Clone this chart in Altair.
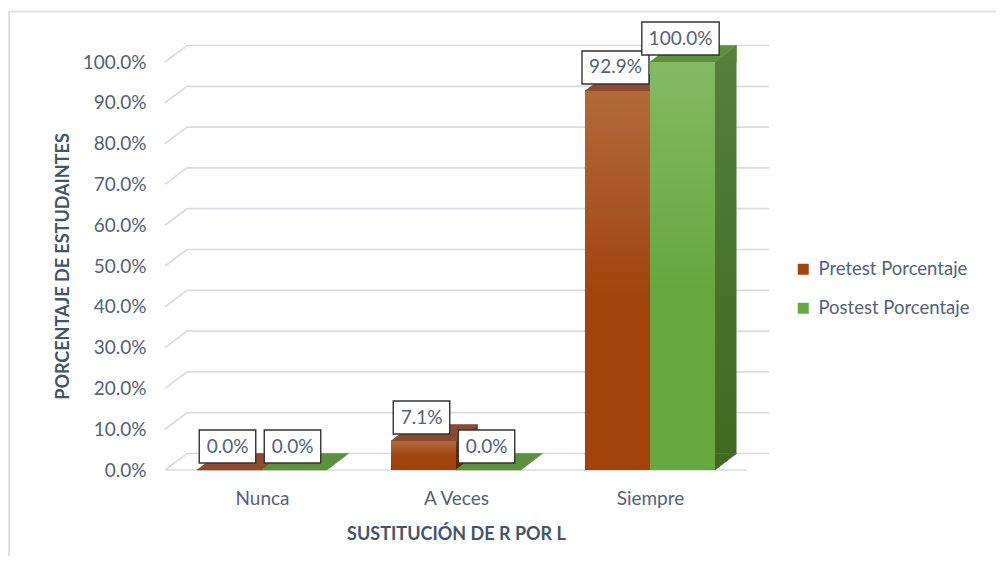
import altair as alt
import pandas as pd

# ---------------- data ----------------
categories = ["Nunca", "A Veces", "Siempre"]
series = ["Pretest Porcentaje", "Postest Porcentaje"]
pretest = [0.0, 0.071, 0.929]
postest = [0.0, 0.0, 1.0]
y_ticks = [0.0, 0.1, 0.2, 0.3, 0.4, 0.5, 0.6, 0.7, 0.8, 0.9, 1.0]
x_title = "SUSTITUCIÓN DE R POR L"
y_title = "PORCENTAJE DE ESTUDAINTES"

# ---------------- style / geometry ----------------
FONT = "Lato"
TXT = "#566175"
TITLE = "#44546A"
GRID = "#D9DCE1"
W, H = 582, 408                 # plot area (front face region)
PXX = W / len(categories)       # px per category unit
BAR_PX = 65.0                   # bar width, px
DX_PX, DY_PX = 21.5, 16.5       # 3-D depth offsets, px
BAR_W = BAR_PX / PXX
DX = DX_PX / PXX
DY = DY_PX / H
GX = 22 / PXX
LFS = 19                        # label font size

front_col = {"Pretest Porcentaje": "#A0440C", "Postest Porcentaje": "#66A83E"}
top_col = {"Pretest Porcentaje": "#8C4A32", "Postest Porcentaje": "#5E9040"}
side_grad = {
    "Pretest Porcentaje": ("#7A3A1E", "#5E2A08"),
    "Postest Porcentaje": ("#557F3B", "#3E6A22"),
}

# symbol paths (size=4 -> path units are pixels)
TOP_PATH = (f"M0,0L{BAR_PX},0L{BAR_PX + DX_PX},{-DY_PX}"
            f"L{DX_PX},{-DY_PX}Z")
LOW_TRI = f"M0,0L{DX_PX},{-DY_PX}L0,{-DY_PX}Z"
UP_TRI = f"M0,0L{DX_PX},{-DY_PX}L{DX_PX},0Z"


def text_w(s, fs=18):
    w = 0.0
    for ch in s:
        if ch.isdigit():
            w += 0.58
        elif ch == ".":
            w += 0.26
        elif ch == "%":
            w += 0.83
        else:
            w += 0.6
    return w * fs


vals = {series[0]: pretest, series[1]: postest}
bars, boxes = [], []
for i, cat in enumerate(categories):
    for s, ser in enumerate(series):
        v = vals[ser][i]
        xl = i + 0.5 - BAR_W + s * BAR_W
        xr = xl + BAR_W
        xc = (xl + xr) / 2
        bars.append(dict(series=ser, category=cat, value=v, zero=0.0,
                         xl=xl, xr=xr, xc=xc, xr2=xr + DX, sy=DY,
                         topc=top_col[ser], c1=side_grad[ser][0], c2=side_grad[ser][1]))
        lab = f"{v * 100:.1f}%"
        hw = (text_w(lab) + 16) / 2 / PXX
        boxes.append(dict(value=v, xc=xc, bx1=xc - hw, bx2=xc + hw))

bars = pd.DataFrame(bars)
boxes = pd.DataFrame(boxes)
sides = bars[bars["value"] > DY]

grid = []
for t in y_ticks:
    grid.append(dict(t=t, pt=0, gx=0.0, gy=t))
    grid.append(dict(t=t, pt=1, gx=GX, gy=t + DY))
    grid.append(dict(t=t, pt=2, gx=len(categories) + GX, gy=t + DY))
grid = pd.DataFrame(grid)
floor = pd.DataFrame([dict(fx=0.0, fx2=float(len(categories)), fy=0.0)])

xs = alt.Scale(domain=[0, len(categories)], nice=False, zero=False)
ys = alt.Scale(domain=[0, 1], nice=False, zero=False)

label_arr = "[" + ",".join(f"'{c}'" for c in categories) + "]"

x_axis = alt.Axis(
    values=[i + 0.5 for i in range(len(categories))],
    labelExpr=f"{label_arr}[floor(datum.value)]",
    domain=False, ticks=False, grid=False,
    labelFont=FONT, labelFontSize=LFS, labelColor=TXT, labelPadding=19,
    labelOverlap=False, labelFlush=False,
    title=x_title, titleFont=FONT, titleFontSize=18, titleFontWeight="bold",
    titleColor=TITLE, titleY=69, titleBaseline="alphabetic",
)
y_axis = alt.Axis(
    values=y_ticks, format=".1%",
    domain=False, ticks=False, grid=False,
    labelFont=FONT, labelFontSize=LFS, labelColor=TXT, labelPadding=19,
    title=y_title, titleFont=FONT, titleFontSize=18, titleFontWeight="bold",
    titleColor=TITLE, titleX=-97, titleY=H / 2, titleAngle=270,
    titleAlign="center", titleBaseline="alphabetic",
)


def X(field):
    return alt.X(field, scale=xs, axis=x_axis)


def Y(field):
    return alt.Y(field, scale=ys, axis=y_axis)


border_color = "#DEE2E8"
border_top = alt.Chart(floor).mark_rule(color=border_color, strokeWidth=2).encode(
    x=alt.value(-155), x2=alt.value(845), y=alt.value(-50.5))
border_left = alt.Chart(floor).mark_rule(color=border_color, strokeWidth=2).encode(
    x=alt.value(-156), y=alt.value(-51), y2=alt.value(520))

grid_layer = alt.Chart(grid).mark_line(color=GRID, strokeWidth=1.7).encode(
    x=X("gx:Q"), y=Y("gy:Q"), detail="t:N", order="pt:Q")

floor_layer = alt.Chart(floor).mark_rule(color=GRID, strokeWidth=1.7).encode(
    x=X("fx:Q"), x2="fx2:Q", y=Y("fy:Q"))

# side faces: a vertical strip plus two small triangles
side_layers = []
for ser in series:
    c1, c2 = side_grad[ser]
    side_layers.append(
        alt.Chart(sides).transform_filter(alt.datum.series == ser).mark_rect(
            fill={"gradient": "linear", "x1": 0, "y1": 0, "x2": 0, "y2": 1,
                  "stops": [{"offset": 0, "color": c1}, {"offset": 1, "color": c2}]},
        ).encode(x=X("xr:Q"), x2="xr2:Q", y=Y("sy:Q"), y2="value:Q")
    )
low_tri = alt.Chart(sides).mark_point(
    shape=LOW_TRI, size=4, filled=True, opacity=1, strokeWidth=0.6,
).encode(x=X("xr:Q"), y=Y("zero:Q"),
         fill=alt.Fill("c2:N", scale=None), stroke=alt.Stroke("c2:N", scale=None))
up_tri = alt.Chart(sides).mark_point(
    shape=UP_TRI, size=4, filled=True, opacity=1, strokeWidth=0.6,
).encode(x=X("xr:Q"), y=Y("value:Q"),
         fill=alt.Fill("c1:N", scale=None), stroke=alt.Stroke("c1:N", scale=None))

top_layer = alt.Chart(bars).mark_point(
    shape=TOP_PATH, size=4, filled=True, opacity=1, strokeWidth=0.6,
).encode(x=X("xl:Q"), y=Y("value:Q"),
         fill=alt.Fill("topc:N", scale=None), stroke=alt.Stroke("topc:N", scale=None))

front_layer = alt.Chart(bars).mark_rect().encode(
    x=X("xl:Q"), x2="xr:Q",
    y=Y("zero:Q"), y2="value:Q",
    color=alt.Color("series:N",
                    scale=alt.Scale(domain=series, range=[front_col[s] for s in series]),
                    legend=alt.Legend(title=None, orient="none", legendX=629, legendY=198,
                                      symbolType="square", symbolSize=121,
                                      symbolStrokeWidth=0, labelFont=FONT,
                                      labelFontSize=18.5, labelColor=TXT,
                                      rowPadding=20, labelOffset=6, padding=0)))

shine_layer = alt.Chart(bars).mark_rect(
    fill={"gradient": "linear", "x1": 0, "y1": 0, "x2": 0, "y2": 1,
          "stops": [{"offset": 0, "color": "rgba(255,255,255,0.2)"},
                    {"offset": 0.55, "color": "rgba(255,255,255,0)"}]}
).encode(x=X("xl:Q"), x2="xr:Q", y=Y("zero:Q"), y2="value:Q")

box_layer = alt.Chart(boxes).mark_rect(
    fill="white", stroke="#333333", strokeWidth=1.4,
    yOffset=-40, y2Offset=-7, xOffset=-2, x2Offset=-2,
).encode(x=X("bx1:Q"), x2="bx2:Q", y=Y("value:Q"), y2="value:Q")

text_layer = alt.Chart(boxes).mark_text(
    font=FONT, fontSize=LFS, color=TXT, baseline="middle", align="center",
    dy=-23.5, dx=-2,
).encode(x=X("xc:Q"), y=Y("value:Q"), text=alt.Text("value:Q", format=".1%"))

chart = alt.layer(
    border_top, border_left, grid_layer, floor_layer, *side_layers, low_tri, up_tri,
    top_layer, front_layer, shine_layer, box_layer, text_layer,
).properties(
    width=W, height=H,
    autosize=alt.AutoSizeParams(type="none"),
    padding={"left": 157, "top": 54, "right": 249, "bottom": 86},
    background="white",
).configure_view(stroke=None)

chart.save("out.html", embed_options={"renderer": "svg", "actions": False})
